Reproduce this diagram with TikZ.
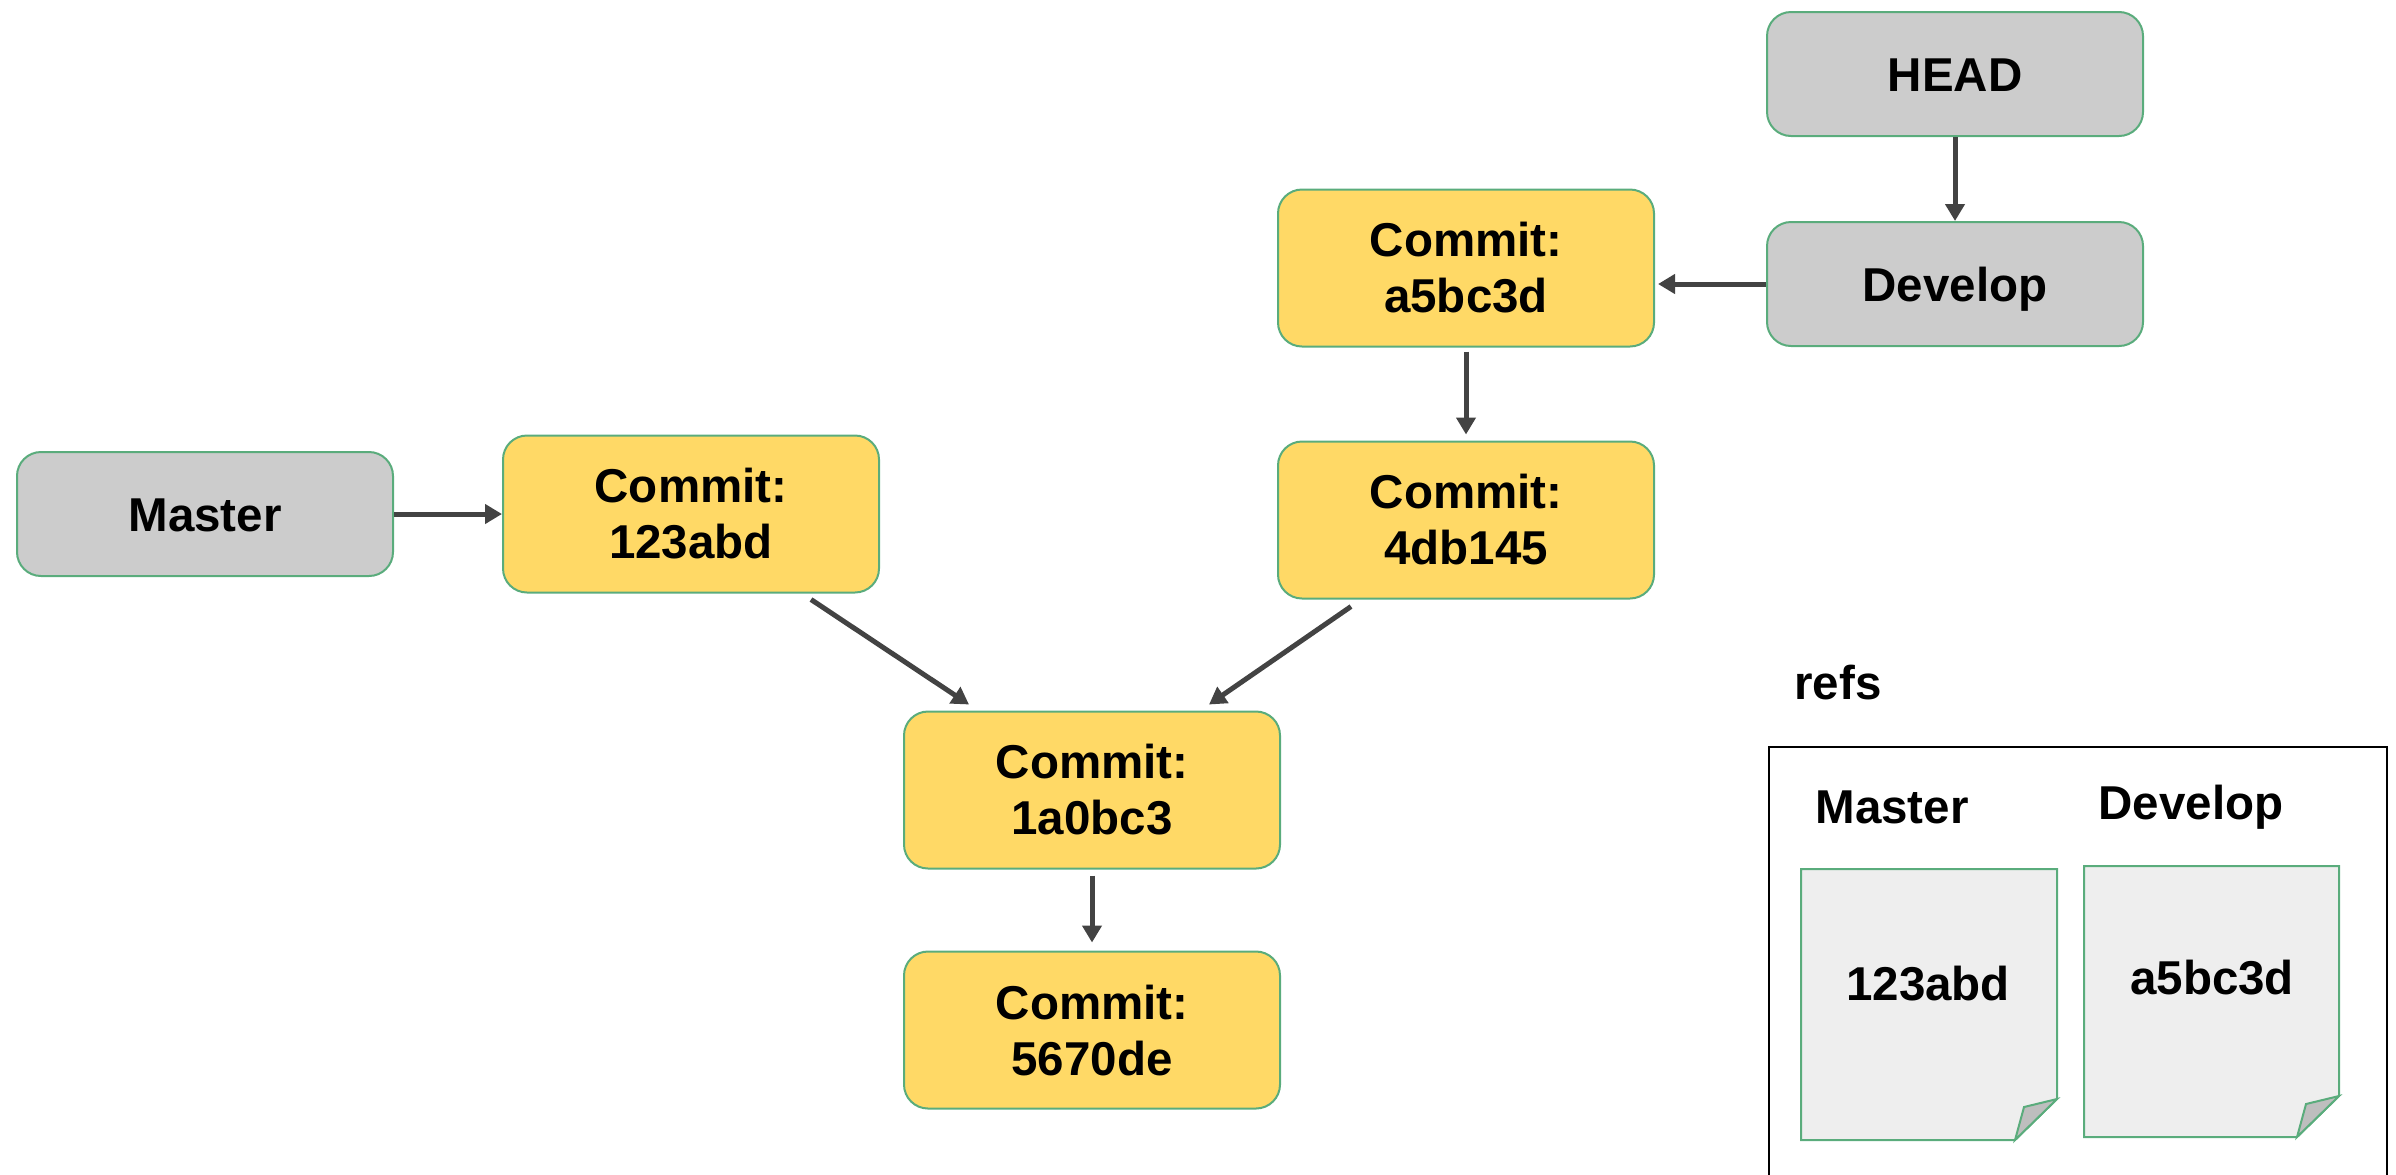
\documentclass[tikz,border=0pt]{standalone}
\usepackage{fontspec}
\setmainfont{Liberation Sans}
\usetikzlibrary{arrows.meta}
\definecolor{edgegreen}{RGB}{90,172,124}
\definecolor{commityellow}{RGB}{255,217,102}
\definecolor{refgray}{RGB}{204,204,204}
\definecolor{arrowgray}{RGB}{67,67,67}
\definecolor{docfill}{RGB}{238,238,238}
\definecolor{foldfill}{RGB}{190,190,190}
\tikzset{
  basebox/.style={draw=edgegreen, line width=1pt, rounded corners=12pt,
    minimum width=188pt, inner sep=0pt, align=center,
    font=\fontsize{23.75}{28}\selectfont\bfseries},
  refbox/.style={basebox, fill=refgray, minimum height=62pt,
    text height=17pt, text depth=0pt},
  commitbox/.style={basebox, fill=commityellow, minimum height=78.5pt},
  link/.style={draw=arrowgray, line width=2.5pt,
    -{Triangle[length=8.5pt,width=9.5pt]}},
  label/.style={inner sep=0pt, font=\fontsize{23.75}{28}\selectfont\bfseries},
  doc/.style={draw=edgegreen, line width=1pt, fill=docfill, line join=miter},
  fold/.style={draw=edgegreen, line width=1pt, fill=foldfill}
}
\begin{document}
\begin{tikzpicture}[x=0.5pt, y=-0.5pt]
\useasboundingbox (0,0) rectangle (2396,1174);

% branch pointers
\node[refbox] (head) at (1955,74) {HEAD};
\node[refbox] (develop) at (1955,284) {Develop};
\node[refbox] (master) at (205,514) {Master};

% commits
\node[commitbox] (ca5) at (1466,268) {Commit:\\a5bc3d};
\node[commitbox] (c4d) at (1466,520) {Commit:\\4db145};
\node[commitbox] (c12) at (691,514) {Commit:\\123abd};
\node[commitbox] (c1a) at (1092,790) {Commit:\\1a0bc3};
\node[commitbox] (c56) at (1092,1030) {Commit:\\5670de};

% pointers
\draw[link] (head.south) -- (develop.north);
\draw[link] (develop.west) -- ([xshift=1.5pt]ca5.east |- develop.west);
\draw[link] ([yshift=-2pt]ca5.south) -- ([yshift=3pt]c4d.north);
\draw[link] (master.east) -- (c12.west);
\draw[link] ([xshift=60pt,yshift=-3pt]c12.south) -- ([xshift=-61.5pt,yshift=3pt]c1a.north);
\draw[link] ([xshift=-57.5pt,yshift=-3.5pt]c4d.south) -- ([xshift=58.5pt,yshift=3pt]c1a.north);
\draw[link] ([yshift=-3pt]c1a.south) -- ([yshift=4pt]c56.north);

% refs folder
\node[label, anchor=west] (refs) at (1794,683) {refs};
\draw[black, line width=1pt] (1769,1200) -- (1769,747) -- (2387,747) -- (2387,1200);
\node[label] (lmaster) at (1892,807) {Master};
\node[label] (ldevelop) at (2191,807) {Develop};

% ref files with folded corner
\draw[doc] (1801,869) -- (2057,869) -- (2057,1099) -- (2015,1140) -- (1801,1140) -- cycle;
\draw[fold] (2057,1099) -- (2024,1107) -- (2015,1140) -- cycle;
\node[label] (vmaster) at (1928,984) {123abd};

\draw[doc] (2084,866) -- (2339,866) -- (2339,1096) -- (2297,1137) -- (2084,1137) -- cycle;
\draw[fold] (2339,1096) -- (2306,1104) -- (2297,1137) -- cycle;
\node[label] (vdevelop) at (2212,978) {a5bc3d};
\end{tikzpicture}
\end{document}
